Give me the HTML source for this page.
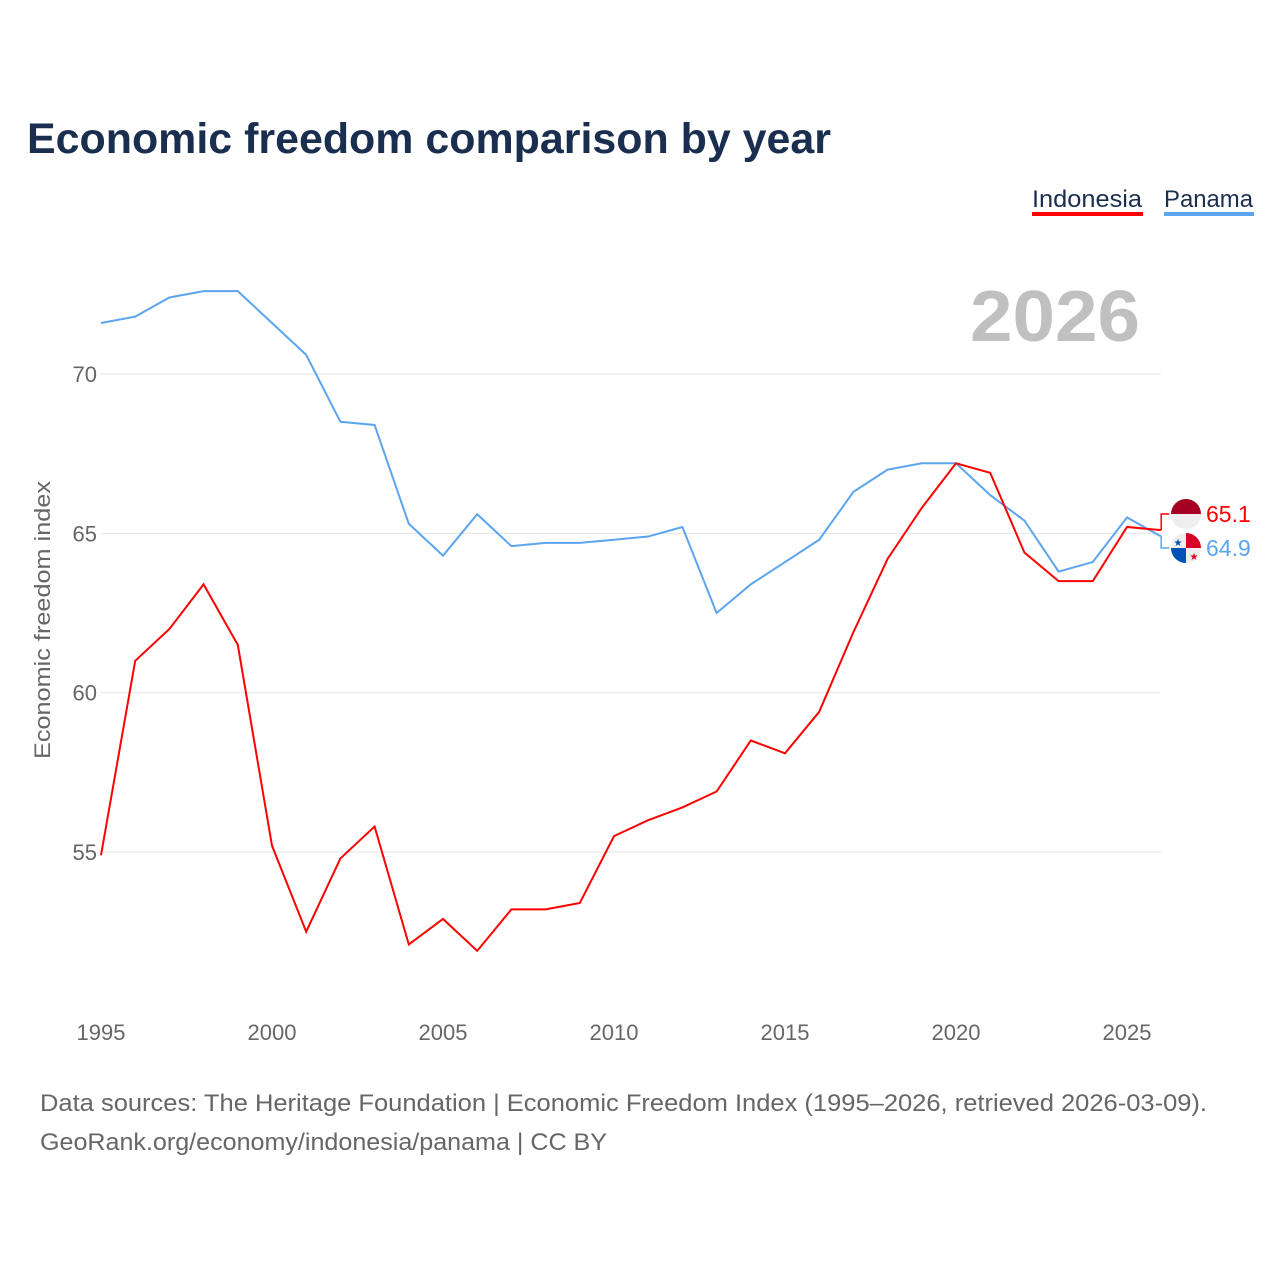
<!DOCTYPE html>
<html><head><meta charset="utf-8"><style>
body{margin:0;background:#fff;font-family:"Liberation Sans",sans-serif}
</style></head><body>
<svg id="chart" width="1280" height="1280" xmlns="http://www.w3.org/2000/svg">
<text x="27" y="153" font-size="43" font-weight="bold" fill="#1a2e4f" textLength="804" lengthAdjust="spacingAndGlyphs">Economic freedom comparison by year</text>
<g>
<text x="1032" y="207" font-size="24" fill="#1a2e4f" textLength="110" lengthAdjust="spacingAndGlyphs">Indonesia</text>
<rect x="1032" y="212" width="111" height="4" fill="#ff0000"/>
<text x="1164" y="207" font-size="24" fill="#1a2e4f" textLength="89" lengthAdjust="spacingAndGlyphs">Panama</text>
<rect x="1164" y="212" width="90" height="4" fill="#5ca5ee"/>
</g>
<text x="1140" y="341" font-size="72" font-weight="bold" fill="#c0c0c0" text-anchor="end" textLength="170" lengthAdjust="spacingAndGlyphs">2026</text>
<text transform="translate(50,620) rotate(-90)" font-size="22" fill="#666" text-anchor="middle" textLength="278" lengthAdjust="spacingAndGlyphs">Economic freedom index</text>
<g id="grid"></g>
<g id="series"></g>
<g id="ends"></g>
<text x="40" y="1111" font-size="24" fill="#666" textLength="1167" lengthAdjust="spacingAndGlyphs">Data sources: The Heritage Foundation | Economic Freedom Index (1995–2026, retrieved 2026-03-09).</text>
<text x="40" y="1150" font-size="24" fill="#666" textLength="567" lengthAdjust="spacingAndGlyphs">GeoRank.org/economy/indonesia/panama | CC BY</text>
</svg>
<script>
const years=[1995,1996,1997,1998,1999,2000,2001,2002,2003,2004,2005,2006,2007,2008,2009,2010,2011,2012,2013,2014,2015,2016,2017,2018,2019,2020,2021,2022,2023,2024,2025,2026];
const panama=[71.6,71.8,72.4,72.6,72.6,71.6,70.6,68.5,68.4,65.3,64.3,65.6,64.6,64.7,64.7,64.8,64.9,65.2,62.5,63.4,64.1,64.8,66.3,67.0,67.2,67.2,66.2,65.4,63.8,64.1,65.5,64.9];
const indonesia=[54.9,61.0,62.0,63.4,61.5,55.2,52.5,54.8,55.8,52.1,52.9,51.9,53.2,53.2,53.4,55.5,56.0,56.4,56.9,58.5,58.1,59.4,61.9,64.2,65.8,67.2,66.9,64.4,63.5,63.5,65.2,65.1];
const yTicks=[55,60,65,70];
const xTicks=[1995,2000,2005,2010,2015,2020,2025];
const NS='http://www.w3.org/2000/svg';
const X=y=>101+(y-1995)*34.2;
const Y=v=>374+(70-v)*31.87;
function mk(t,a,p){const e=document.createElementNS(NS,t);for(const k in a)e.setAttribute(k,a[k]);p.appendChild(e);return e;}
const g=document.getElementById('grid');
yTicks.forEach(v=>{
const l=mk('line',{x1:101,x2:1161,y1:Y(v),y2:Y(v),stroke:'#e6e6e6','stroke-width':1},g);


const t=mk('text',{x:97,y:Y(v)+8,'font-size':22,fill:'#666','text-anchor':'end'},g);
t.textContent=v;


});
xTicks.forEach(v=>{
const t=mk('text',{x:X(v),y:1040,'font-size':22,fill:'#666','text-anchor':'middle'},g);
t.textContent=v;


});
const s=document.getElementById('series');
function line(d,c,n){
const p=mk('polyline',{points:d.map((v,i)=>X(years[i])+','+Y(v)).join(' '),fill:'none',stroke:c,'stroke-width':2},s);


}
line(panama,'#5ca5ee','line-panama');
line(indonesia,'#ff0000','line-indonesia');
const e=document.getElementById('ends');
const lastI=indonesia[indonesia.length-1],lastP=panama[panama.length-1];
const xe=X(2026);
const yi=Y(lastI),yp=Y(lastP);
const ci=514,cp=548;
const ci1=mk('polyline',{points:`${xe},${yi} ${xe},${ci} ${xe+8},${ci}`,fill:'none',stroke:'#ff0000','stroke-width':1.5},e);


const cp1=mk('polyline',{points:`${xe},${yp} ${xe},${cp} ${xe+8},${cp}`,fill:'none',stroke:'#5ca5ee','stroke-width':1.5},e);


const fi=mk('g',{},e);


mk('path',{d:`M1171,${ci} a15,15 0 0 1 30,0 z`,fill:'#a50021'},fi);
mk('path',{d:`M1171,${ci} a15,15 0 0 0 30,0 z`,fill:'#eeeeee'},fi);
const fp=mk('g',{},e);


mk('circle',{cx:1186,cy:cp,r:15,fill:'#eeeeee'},fp);
mk('path',{d:`M1186,${cp} L1186,${cp-15} A15,15 0 0 1 1201,${cp} z`,fill:'#d80027'},fp);
mk('path',{d:`M1186,${cp} L1186,${cp+15} A15,15 0 0 1 1171,${cp} z`,fill:'#0052b4'},fp);
mk('text',{x:1178,y:cp-2,'font-size':10,fill:'#0052b4','text-anchor':'middle'},fp).textContent='★';
mk('text',{x:1194,y:cp+12,'font-size':10,fill:'#d80027','text-anchor':'middle'},fp).textContent='★';
const ti=mk('text',{x:1206,y:ci+8,'font-size':23,fill:'#ff0000'},e);
ti.textContent=lastI.toFixed(1);


const tp=mk('text',{x:1206,y:cp+8,'font-size':23,fill:'#5ca5ee'},e);
tp.textContent=lastP.toFixed(1);


</script>
</body></html>
